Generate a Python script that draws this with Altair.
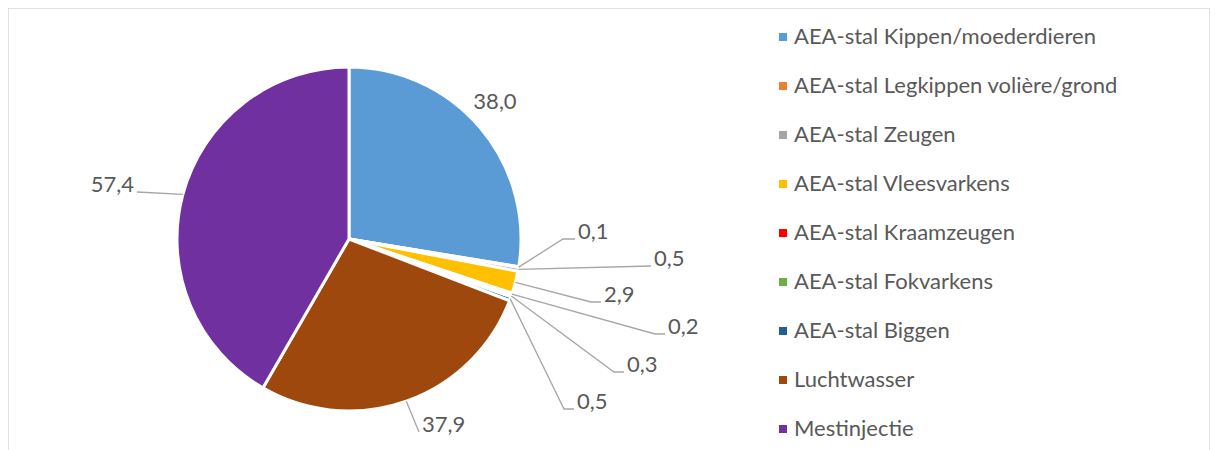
import math
import altair as alt
import pandas as pd

# ---- data -------------------------------------------------------------
categories = [
    "AEA-stal Kippen/moederdieren",
    "AEA-stal Legkippen volière/grond",
    "AEA-stal Zeugen",
    "AEA-stal Vleesvarkens",
    "AEA-stal Kraamzeugen",
    "AEA-stal Fokvarkens",
    "AEA-stal Biggen",
    "Luchtwasser",
    "Mestinjectie",
]
values = [38.0, 0.1, 0.5, 2.9, 0.2, 0.3, 0.5, 37.9, 57.4]
colors = ["#5B9BD5", "#ED7D31", "#A5A5A5", "#FFC000", "#FF0000",
          "#70AD47", "#255E91", "#9E480E", "#7030A0"]

# ---- layout (label placement, relative to pie centre) ----------------
CX, CY, R = 341, 231, 172          # pie centre / radius inside the view
label_dx = [146, 229, 305, 255, 319, 278, 228, 73, -215]
label_dy = [-137, -7, 20, 56, 88, 126, 163, 186, -54]
label_align = ["center", "left", "left", "left", "left", "left", "left", "left", "right"]
leader = [False, True, True, True, True, True, True, True, True]
elbow = [0, 12, 0, 10, 10, 10, 10, 0, 0]

FONT = "Lato"
FS = 22
TXT = "#595959"

total = sum(values)
rows, lines = [], []
cum = 0.0
for i, (c, v) in enumerate(zip(categories, values)):
    mid = (cum + v / 2) / total * 2 * math.pi
    cum += v
    lx, ly = CX + label_dx[i], CY + label_dy[i]
    rows.append(dict(idx=i, category=c, value=v,
                     label=f"{v:.1f}".replace(".", ","),
                     lx=lx, ly=ly, align=label_align[i]))
    if leader[i]:
        side = 1 if label_align[i] == "left" else -1
        ex, ey = lx - 3 * side, ly + 7
        sx, sy = CX + R * math.sin(mid), CY - R * math.cos(mid)
        pts = [(sx, sy), (ex - side * elbow[i], ey), (ex, ey)]
        for k, (px, py) in enumerate(pts):
            lines.append(dict(category=c, pt=k, px=px, py=py))

df = pd.DataFrame(rows)
ldf = pd.DataFrame(lines)

pie = alt.Chart(df).mark_arc(outerRadius=R, stroke="white", strokeWidth=3).encode(
    theta=alt.Theta("value:Q", stack=True),
    color=alt.Color(
        "category:N", sort=None,
        scale=alt.Scale(domain=categories, range=colors),
        legend=alt.Legend(
            title=None, orient="none", legendX=764, legendY=18,
            symbolType="square", symbolSize=64, symbolStrokeWidth=0,
            labelFontSize=FS, labelFont=FONT, labelColor=TXT,
            rowPadding=27, labelOffset=0, padding=0, labelLimit=500,
        ),
    ),
    order=alt.Order("idx:Q"),
    x=alt.value(CX),
    y=alt.value(CY),
)

leaders = alt.Chart(ldf).mark_line(color="#a6a6a6", strokeWidth=1.3).encode(
    x=alt.X("px:Q", scale=None, axis=None),
    y=alt.Y("py:Q", scale=None, axis=None),
    detail="category:N",
    order="pt:Q",
)

def text_layer(al):
    return alt.Chart(df).transform_filter(
        alt.datum.align == al
    ).mark_text(align=al, baseline="middle", font=FONT, fontSize=FS, color=TXT).encode(
        x=alt.X("lx:Q", scale=None, axis=None),
        y=alt.Y("ly:Q", scale=None, axis=None),
        text="label:N",
    )

chart = alt.layer(
    pie, leaders, text_layer("left"), text_layer("center"), text_layer("right")
).properties(
    width=1202, height=445, padding=0, autosize="none"
).configure_view(stroke="#d9d9d9", strokeWidth=1.5)

chart.save("out.html", embed_options={"renderer": "svg", "actions": False})
